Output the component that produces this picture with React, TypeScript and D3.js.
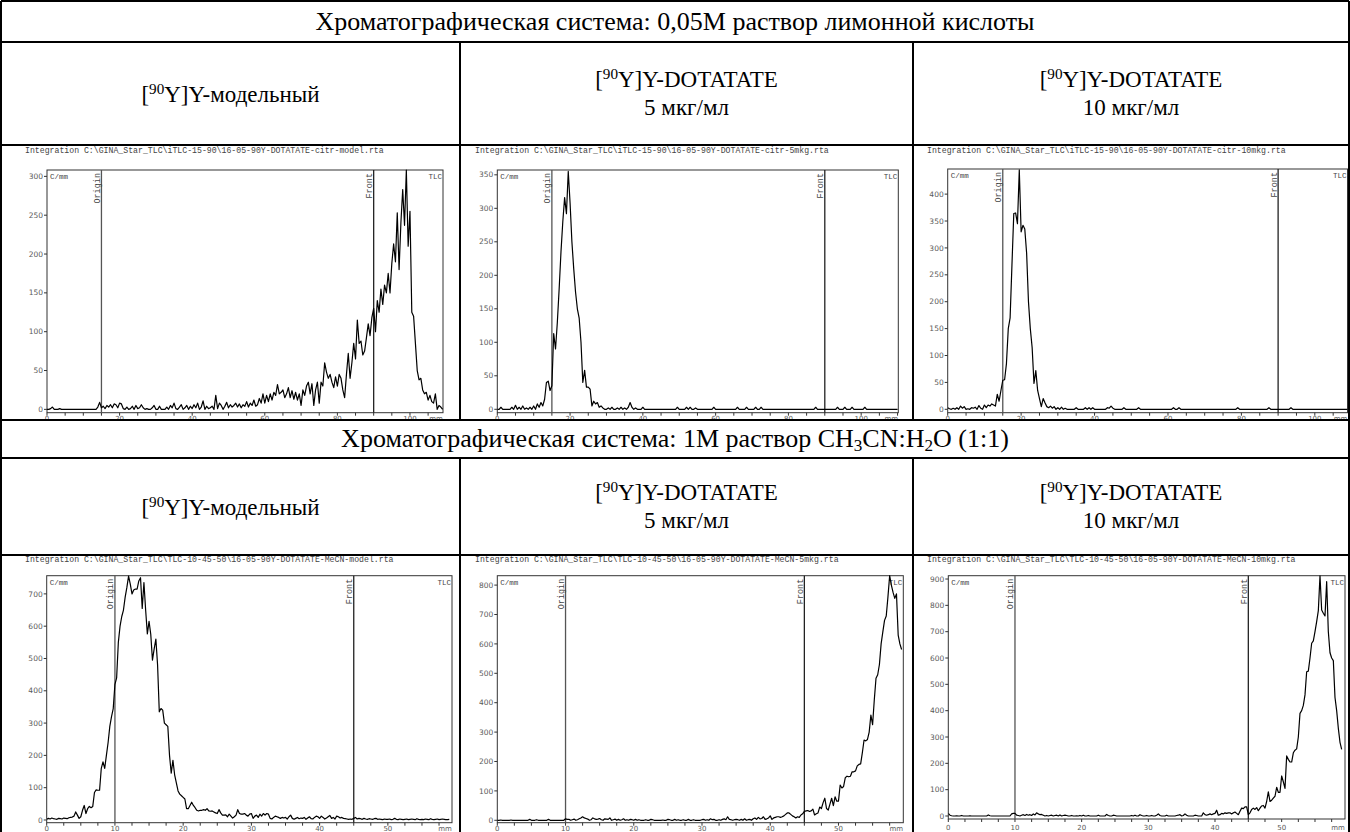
import React from 'react';
import * as d3 from 'd3';

// ---- Radio-TLC traces (counts per mm), sampled at a fixed step along the strip ----

// citrate system, [90Y]Y model, step 0.5 mm from 0
const CITR_MODEL = [
  0, 0, 1, 3, 0, 0, 0, 1, 0, 0, 0, 0, 0, 0, 0, 0, 0, 0, 0, 0,
  0, 0, 0, 0, 0, 0, 0, 0, 3, 9, 2, 4, 1, 5, 3, 6, 2, 7, 6, 2,
  8, 7, 1, 0, 3, 0, 1, 4, 0, 5, 1, 2, 6, 2, 0, 1, 0, 0, 2, 5,
  0, 0, 4, 0, 0, 0, 3, 0, 5, 2, 8, 1, 0, 3, 6, 0, 2, 5, 0, 4,
  1, 6, 2, 8, 0, 3, 11, 0, 4, 1, 2, 4, 0, 18, 1, 8, 5, 0, 4, 9,
  2, 6, 3, 5, 8, 3, 7, 2, 6, 4, 10, 3, 8, 5, 12, 4, 6, 14, 8, 20,
  8, 18, 10, 20, 12, 22, 18, 32, 20, 22, 25, 15, 20, 28, 15, 24, 13, 22, 12, 20,
  5, 25, 18, 30, 35, 20, 33, 5, 25, 35, 8, 35, 30, 60, 48, 40, 45, 35, 28, 42,
  30, 45, 40, 25, 15, 45, 72, 40, 60, 85, 65, 115, 85, 88, 70, 75, 92, 110, 95, 118,
  130, 100, 140, 125, 155, 135, 160, 150, 175, 150, 188, 213, 190, 253, 180, 240, 283, 237, 308, 210,
  255, 125, 120, 85, 50, 38, 40, 25, 20, 22, 12, 18, 10, 8, 20, 0, 5, 3, 0,
];

// citrate system, [90Y]Y-DOTATATE 5 ug/ml, step 0.5 mm
const CITR_5 = [
  0, 0, 3, 0, 0, 0, 0, 0, 3, 0, 6, 0, 3, 0, 5, 0, 2, 0, 3, 0,
  5, 0, 8, 3, 10, 5, 15, 40, 42, 28, 35, 113, 90, 130, 180, 235, 280, 316, 292, 355,
  308, 250, 210, 175, 150, 136, 100, 40, 58, 33, 33, 30, 5, 12, 8, 10, 3, 5, 2, 0,
  0, 2, 0, 3, 0, 0, 2, 0, 3, 0, 2, 0, 3, 10, 3, 0, 2, 0, 0, 0,
  3, 0, 0, 0, 0, 0, 0, 0, 0, 0, 0, 0, 0, 0, 0, 0, 0, 0, 0, 3,
  0, 0, 0, 0, 3, 0, 3, 0, 0, 2, 0, 0, 0, 0, 0, 0, 0, 0, 0, 3,
  0, 0, 0, 0, 0, 0, 0, 0, 0, 0, 0, 0, 3, 0, 0, 0, 0, 3, 0, 0,
  0, 0, 3, 0, 0, 3, 0, 0, 0, 0, 0, 0, 0, 0, 0, 0, 0, 0, 0, 0,
  0, 0, 0, 0, 0, 0, 0, 0, 0, 0, 0, 0, 0, 0, 0, 3, 0, 0, 0, 0,
  0, 0, 0, 0, 0, 0, 0, 3, 0, 0, 0, 3, 0, 0, 0, 3, 0, 0, 0, 0,
  0, 0, 3, 0, 0, 0, 0, 0, 0, 0, 0, 0, 0, 0, 0, 0, 0, 0, 0, 0, 0,
];

// citrate system, [90Y]Y-DOTATATE 10 ug/ml, step 0.5 mm
const CITR_10 = [
  3, 1, 0, 2, 0, 3, 0, 6, 2, 5, 0, 1, 0, 3, 2, 4, 0, 7, 2, 0,
  8, 3, 8, 6, 10, 8, 6, 28, 15, 35, 54, 55, 85, 150, 170, 268, 364, 365, 345, 445,
  330, 342, 335, 290, 200, 150, 115, 48, 72, 35, 20, 5, 20, 12, 5, 3, 6, 2, 5, 0,
  3, 0, 4, 0, 2, 0, 0, 0, 0, 0, 3, 0, 0, 0, 0, 3, 0, 3, 0, 3,
  0, 0, 0, 0, 0, 0, 0, 3, 2, 6, 2, 0, 0, 0, 0, 0, 3, 0, 0, 0,
  0, 0, 0, 0, 3, 0, 0, 0, 0, 0, 0, 0, 0, 0, 0, 0, 0, 0, 0, 0,
  0, 0, 0, 3, 0, 0, 3, 0, 0, 0, 0, 0, 0, 0, 0, 0, 0, 0, 0, 0,
  0, 0, 0, 0, 0, 0, 0, 0, 0, 0, 0, 0, 0, 0, 0, 0, 0, 0, 3, 0,
  0, 0, 0, 0, 0, 0, 0, 0, 0, 0, 0, 0, 0, 0, 0, 3, 0, 0, 0, 0,
  0, 0, 0, 0, 0, 0, 0, 3, 0, 0, 0, 0, 0, 0, 0, 0, 0, 0, 0, 0,
  0, 0, 0, 0, 0, 0, 0, 0, 0, 0, 0, 0, 0, 0, 0, 0, 0, 0, 0,
];

// MeCN:H2O system, [90Y]Y model, step 0.25 mm
const MECN_MODEL = [
  2, 5, 3, 6, 4, 3, 2, 5, 4, 3, 6, 5, 4, 7, 8, 9, 12, 25, 15, 5,
  10, 30, 45, 20, 35, 42, 38, 42, 85, 93, 92, 92, 160, 180, 160, 200, 240, 290, 320, 345,
  420, 440, 550, 600, 630, 650, 690, 720, 755, 730, 700, 712, 715, 715, 740, 750, 655, 735, 650, 576,
  615, 575, 495, 530, 560, 480, 335, 345, 340, 300, 295, 290, 200, 145, 185, 140, 115, 90, 80, 75,
  70, 65, 35, 35, 45, 55, 45, 38, 30, 28, 30, 30, 32, 30, 35, 28, 27, 28, 25, 22,
  20, 32, 22, 15, 15, 16, 10, 18, 12, 6, 10, 15, 32, 20, 18, 18, 20, 15, 12, 18,
  20, 5, 12, 15, 8, 18, 12, 20, 15, 20, 18, 5, 3, 8, 12, 10, 8, 5, 8, 6,
  8, 3, 10, 15, 5, 2, 5, 8, 4, 6, 5, 8, 2, 6, 10, 4, 3, 8, 12, 10,
  5, 12, 8, 3, 6, 10, 14, 5, 8, 3, 12, 10, 6, 8, 5, 4, 3, 2, 3, 2,
  5, 8, 3, 5, 4, 2, 5, 3, 2, 4, 3, 2, 4, 5, 2, 3, 2, 1, 3, 2,
  2, 3, 1, 2, 5, 2, 1, 3, 2, 1, 2, 3, 1, 2, 3, 2, 1, 4, 2, 1,
  2, 1, 3, 2, 1, 4, 2, 1, 2, 3, 1, 2, 3, 2, 1, 1, 2,
];

// MeCN:H2O system, [90Y]Y-DOTATATE 5 ug/ml, step 0.25 mm
const MECN_5 = [
  0, 0, 1, 0, 0, 0, 0, 0, 1, 0, 0, 0, 0, 0, 0, 0, 0, 0, 0, 3,
  0, 0, 0, 2, 0, 0, 0, 0, 0, 0, 3, 0, 0, 0, 0, 0, 0, 0, 0, 0,
  5, 3, 3, 0, 2, 4, 0, 2, 5, 8, 12, 8, 6, 4, 0, 2, 8, 5, 3, 4,
  6, 2, 0, 5, 4, 3, 8, 0, 2, 4, 0, 3, 0, 2, 5, 0, 2, 0, 3, 2,
  0, 3, 0, 2, 0, 0, 0, 2, 0, 0, 3, 2, 0, 0, 0, 0, 0, 1, 0, 0,
  3, 2, 0, 0, 3, 0, 2, 0, 0, 2, 0, 0, 3, 0, 0, 2, 0, 0, 0, 0,
  2, 3, 0, 2, 0, 5, 2, 3, 0, 0, 2, 0, 3, 5, 2, 12, 3, 2, 0, 2,
  3, 2, 0, 3, 0, 5, 0, 2, 3, 0, 5, 8, 3, 10, 5, 6, 12, 3, 5, 8,
  15, 3, 8, 10, 12, 12, 10, 12, 15, 20, 25, 25, 20, 15, 12, 8, 12, 10, 18, 22,
  30, 32, 33, 30, 32, 38, 18, 22, 25, 45, 40, 60, 75, 40, 35, 55, 75, 50, 80, 65,
  65, 120, 110, 115, 145, 150, 148, 150, 165, 165, 168, 185, 190, 192, 230, 273, 270, 275, 300, 358,
  325, 410, 483, 495, 530, 600, 641, 680, 695, 760, 832, 800, 775, 755, 770, 630, 600, 581,
];

// MeCN:H2O system, [90Y]Y-DOTATATE 10 ug/ml, step 0.25 mm
const MECN_10 = [
  10, 3, 1, 0, 0, 1, 0, 0, 2, 0, 0, 0, 0, 1, 0, 0, 0, 0, 0, 0,
  0, 0, 0, 0, 4, 1, 0, 0, 0, 0, 0, 0, 0, 0, 0, 0, 0, 0, 8, 10,
  10, 3, 2, 0, 3, 5, 2, 6, 3, 5, 2, 8, 4, 12, 8, 5, 6, 3, 0, 2,
  0, 2, 3, 0, 2, 3, 0, 4, 0, 2, 3, 2, 0, 0, 2, 0, 0, 1, 0, 2,
  0, 3, 0, 0, 2, 0, 0, 0, 0, 0, 3, 0, 0, 0, 0, 6, 2, 0, 0, 3,
  2, 0, 0, 0, 0, 0, 0, 0, 0, 0, 2, 0, 3, 0, 0, 5, 2, 0, 0, 2,
  0, 0, 2, 0, 0, 3, 8, 2, 0, 0, 0, 3, 0, 0, 0, 0, 0, 2, 3, 5,
  0, 2, 8, 3, 0, 0, 0, 0, 3, 2, 0, 0, 0, 12, 5, 3, 5, 8, 5, 8,
  10, 22, 3, 5, 10, 8, 12, 10, 12, 12, 8, 12, 15, 10, 5, 18, 30, 28, 35, 35,
  5, 12, 25, 30, 25, 32, 20, 30, 38, 40, 30, 55, 92, 55, 60, 68, 75, 109, 90, 90,
  152, 130, 105, 228, 215, 205, 205, 240, 250, 255, 300, 390, 400, 420, 460, 548, 550, 600, 656, 665,
  700, 738, 780, 912, 782, 770, 760, 890, 700, 620, 600, 590, 450, 400, 333, 280, 253,
];

// ---- table texts ----
const SYSTEM_TITLES = [
  'Хроматографическая система: 0,05М раствор лимонной кислоты',
  'Хроматографическая система: 1М раствор CH₃CN:H₂O (1:1)',
];
const SAMPLE_NAMES = ['Y-модельный', 'Y-DOTATATE', 'Y-DOTATATE'];
const SAMPLE_CONC = ['', '5 мкг/мл', '10 мкг/мл'];
const FILE_NAMES = [
  'Integration C:\\GINA_Star_TLC\\iTLC-15-90\\16-05-90Y-DOTATATE-citr-model.rta',
  'Integration C:\\GINA_Star_TLC\\iTLC-15-90\\16-05-90Y-DOTATATE-citr-5mkg.rta',
  'Integration C:\\GINA_Star_TLC\\iTLC-15-90\\16-05-90Y-DOTATATE-citr-10mkg.rta',
  'Integration C:\\GINA_Star_TLC\\TLC-10-45-50\\16-05-90Y-DOTATATE-MeCN-model.rta',
  'Integration C:\\GINA_Star_TLC\\TLC-10-45-50\\16-05-90Y-DOTATATE-MeCN-5mkg.rta',
  'Integration C:\\GINA_Star_TLC\\TLC-10-45-50\\16-05-90Y-DOTATATE-MeCN-10mkg.rta',
];

// ---- layout ----
const W = 1350;
const H = 832;
const COL_X = [1, 460, 913, 1349];
const ROW_Y = [1, 42, 145, 420, 458, 555, 832];
const SERIF = "'Liberation Serif', 'Times New Roman', serif";
const MONO = "'Liberation Mono', 'Courier New', monospace";
const SANS = "'DejaVu Sans', Verdana, sans-serif";
const TITLE_SIZE = 26;
const HEAD_SIZE = 23;

type Spec = {
  data: number[]; step: number; file: string;
  xMax: number; yMin: number; yMax: number; yStep: number;
  xLabelStep: number; xTickStep: number; origin: number; front: number;
  left: number; right: number; top: number; bottom: number; labelY: number;
  titleX: number; titleY: number; cellTop: number; cellBottom: number; cellLeft: number; cellRight: number;
};

const SPECS: Spec[] = [
  { data: CITR_MODEL, step: 0.5, file: FILE_NAMES[0], xMax: 109.1, yMin: -4.3, yMax: 308.2, yStep: 50,
    xLabelStep: 20, xTickStep: 5, origin: 15, front: 90, left: 47, right: 443, top: 170, bottom: 412.7, labelY: 420.5,
    titleX: 25, titleY: 153, cellTop: ROW_Y[2], cellBottom: ROW_Y[3], cellLeft: COL_X[0], cellRight: COL_X[1] },
  { data: CITR_5, step: 0.5, file: FILE_NAMES[1], xMax: 110.2, yMin: -5.1, yMax: 357.2, yStep: 50,
    xLabelStep: 20, xTickStep: 5, origin: 15, front: 90, left: 497.3, right: 898.3, top: 170, bottom: 412.7, labelY: 420.5,
    titleX: 475, titleY: 153, cellTop: ROW_Y[2], cellBottom: ROW_Y[3], cellLeft: COL_X[1], cellRight: COL_X[2] },
  { data: CITR_10, step: 0.5, file: FILE_NAMES[2], xMax: 108.9, yMin: -6.3, yMax: 446.7, yStep: 50,
    xLabelStep: 20, xTickStep: 5, origin: 15, front: 90, left: 947.7, right: 1347.5, top: 169, bottom: 412.7, labelY: 420.5,
    titleX: 927, titleY: 153, cellTop: ROW_Y[2], cellBottom: ROW_Y[3], cellLeft: COL_X[2], cellRight: COL_X[3] },
  { data: MECN_MODEL, step: 0.25, file: FILE_NAMES[3], xMax: 59.4, yMin: -8.4, yMax: 756.3, yStep: 100,
    xLabelStep: 10, xTickStep: 2.5, origin: 10, front: 45, left: 46.7, right: 452, top: 575.7, bottom: 822.7, labelY: 830.5,
    titleX: 25, titleY: 562, cellTop: ROW_Y[5], cellBottom: ROW_Y[6], cellLeft: COL_X[0], cellRight: COL_X[1] },
  { data: MECN_5, step: 0.25, file: FILE_NAMES[4], xMax: 59.5, yMin: -8.2, yMax: 832, yStep: 100,
    xLabelStep: 10, xTickStep: 2.5, origin: 10, front: 45, left: 497.3, right: 903.3, top: 575.7, bottom: 822.7, labelY: 830.5,
    titleX: 475, titleY: 562, cellTop: ROW_Y[5], cellBottom: ROW_Y[6], cellLeft: COL_X[1], cellRight: COL_X[2] },
  { data: MECN_10, step: 0.25, file: FILE_NAMES[5], xMax: 59.5, yMin: -11.4, yMax: 912.6, yStep: 100,
    xLabelStep: 10, xTickStep: 2.5, origin: 10, front: 45, left: 948.3, right: 1345, top: 575.7, bottom: 819, labelY: 829.5,
    titleX: 927, titleY: 562, cellTop: ROW_Y[5], cellBottom: ROW_Y[6], cellLeft: COL_X[2], cellRight: COL_X[3] },
];

function Chromatogram({ spec, id }: { spec: Spec; id: string }) {
  const x = d3.scaleLinear().domain([0, spec.xMax]).range([spec.left, spec.right]);
  const y = d3.scaleLinear().domain([spec.yMin, spec.yMax]).range([spec.bottom, spec.top]);
  const line = d3.line<number>().x((_, i) => x(i * spec.step)).y((d) => y(d));
  const yTicks = d3.range(0, spec.yMax + 1e-6, spec.yStep);
  const xTicks = d3.range(0, spec.xMax + 1e-6, spec.xTickStep);
  const xLabels = d3.range(0, spec.xMax - 5, spec.xLabelStep);
  const axisColor = '#333';
  const labelColor = '#5a5a5a';
  return (
    <g clipPath={`url(#cell-${id})`}>
      <clipPath id={`cell-${id}`}>
        <rect x={spec.cellLeft} y={spec.cellTop} width={spec.cellRight - spec.cellLeft} height={spec.cellBottom - spec.cellTop} />
      </clipPath>
      <clipPath id={`frame-${id}`}>
        <rect x={spec.left} y={spec.top - 1} width={spec.right - spec.left} height={spec.bottom - spec.top + 1} />
      </clipPath>
      <text x={spec.titleX} y={spec.titleY} fontFamily={MONO} fontSize={8.2} fill="#444">{spec.file}</text>
      <rect x={spec.left} y={spec.top} width={spec.right - spec.left} height={spec.bottom - spec.top}
        fill="none" stroke={axisColor} strokeWidth={1} />
      {yTicks.map((t) => (
        <g key={`y${t}`}>
          <line x1={spec.left - 3} x2={spec.left} y1={y(t)} y2={y(t)} stroke={axisColor} strokeWidth={1} />
          <text x={spec.left - 4} y={y(t)} dy="0.35em" textAnchor="end" fontFamily={SANS} fontSize={7.5} fill={labelColor}>{t}</text>
        </g>
      ))}
      {xTicks.map((t) => (
        <line key={`x${t}`} x1={x(t)} x2={x(t)} y1={spec.bottom} y2={spec.bottom + 3} stroke={axisColor} strokeWidth={1} />
      ))}
      {xLabels.map((t) => (
        <text key={`xl${t}`} x={x(t)} y={spec.labelY} textAnchor="middle" fontFamily={SANS} fontSize={7} fill={labelColor}>{t}</text>
      ))}
      <text x={spec.right - 7} y={spec.labelY} textAnchor="middle" fontFamily={SANS} fontSize={7} fill={labelColor}>mm</text>
      <text x={spec.left + 3} y={spec.top + 9} fontFamily={MONO} fontSize={7.5} fill="#444">C/mm</text>
      <text x={spec.right - 1} y={spec.top + 9} textAnchor="end" fontFamily={MONO} fontSize={7.5} fill="#444">TLC</text>
      {[{ v: spec.origin, name: 'Origin' }, { v: spec.front, name: 'Front' }].map((m) => (
        <g key={m.name}>
          <line x1={x(m.v)} x2={x(m.v)} y1={spec.top} y2={spec.bottom} stroke={m.name === 'Origin' ? '#555' : '#222'} strokeWidth={1.3} />
          <text transform={`translate(${x(m.v) - 1.5},${spec.top + 3}) rotate(-90)`} textAnchor="end"
            fontFamily={MONO} fontSize={8.5} fill="#444">{m.name}</text>
        </g>
      ))}
      <path d={line(spec.data) || ''} fill="none" stroke="#000" strokeWidth={1.2} strokeLinejoin="round"
        clipPath={`url(#frame-${id})`} />
    </g>
  );
}

function SampleHeader({ col, rowTop, rowBottom }: { col: number; rowTop: number; rowBottom: number }) {
  const cx = (COL_X[col] + COL_X[col + 1]) / 2;
  const mid = (rowTop + rowBottom) / 2;
  const twoLines = SAMPLE_CONC[col] !== '';
  const y1 = twoLines ? mid - 7 : mid + 8;
  return (
    <g fontFamily={SERIF} fontSize={HEAD_SIZE} fill="#000" textAnchor="middle">
      <text x={cx} y={y1}>
        [<tspan fontSize={HEAD_SIZE * 0.66} dy={-8}>90</tspan><tspan dy={8}>Y]{SAMPLE_NAMES[col]}</tspan>
      </text>
      {twoLines && <text x={cx} y={y1 + 28}>{SAMPLE_CONC[col]}</text>}
    </g>
  );
}

function SystemTitle({ idx, rowTop, rowBottom }: { idx: number; rowTop: number; rowBottom: number }) {
  const cy = (rowTop + rowBottom) / 2 + 8;
  const cx = W / 2;
  if (idx === 0) {
    return <text x={cx} y={cy} textAnchor="middle" fontFamily={SERIF} fontSize={TITLE_SIZE}>{SYSTEM_TITLES[0]}</text>;
  }
  return (
    <text x={cx} y={cy} textAnchor="middle" fontFamily={SERIF} fontSize={TITLE_SIZE}>
      Хроматографическая система: 1М раствор CH<tspan fontSize={TITLE_SIZE * 0.66} dy={4}>3</tspan>
      <tspan dy={-4}>CN:H</tspan><tspan fontSize={TITLE_SIZE * 0.66} dy={4}>2</tspan><tspan dy={-4}>O (1:1)</tspan>
    </text>
  );
}

export default function App() {
  return (
    <svg width={W} height={H} viewBox={`0 0 ${W} ${H}`}
      style={{ position: 'absolute', left: 0, top: 0, background: '#fff' }}>
      <rect x={0} y={0} width={W} height={H} fill="#fff" />
      <SystemTitle idx={0} rowTop={ROW_Y[0]} rowBottom={ROW_Y[1]} />
      <SystemTitle idx={1} rowTop={ROW_Y[3]} rowBottom={ROW_Y[4]} />
      {[0, 1, 2].map((c) => <SampleHeader key={`a${c}`} col={c} rowTop={ROW_Y[1]} rowBottom={ROW_Y[2]} />)}
      {[0, 1, 2].map((c) => <SampleHeader key={`b${c}`} col={c} rowTop={ROW_Y[4]} rowBottom={ROW_Y[5]} />)}
      {SPECS.map((s, i) => <Chromatogram key={i} spec={s} id={`p${i}`} />)}
      {/* table grid */}
      <g stroke="#000" strokeWidth={2} fill="none">
        {ROW_Y.slice(0, 6).map((yy) => <line key={`h${yy}`} x1={COL_X[0]} x2={COL_X[3]} y1={yy} y2={yy} />)}
        <line x1={COL_X[0]} x2={COL_X[0]} y1={ROW_Y[0]} y2={H} />
        <line x1={COL_X[3]} x2={COL_X[3]} y1={ROW_Y[0]} y2={H} />
        {[1, 2].map((c) => (
          <g key={`v${c}`}>
            <line x1={COL_X[c]} x2={COL_X[c]} y1={ROW_Y[1]} y2={ROW_Y[3]} />
            <line x1={COL_X[c]} x2={COL_X[c]} y1={ROW_Y[4]} y2={H} />
          </g>
        ))}
      </g>
    </svg>
  );
}
